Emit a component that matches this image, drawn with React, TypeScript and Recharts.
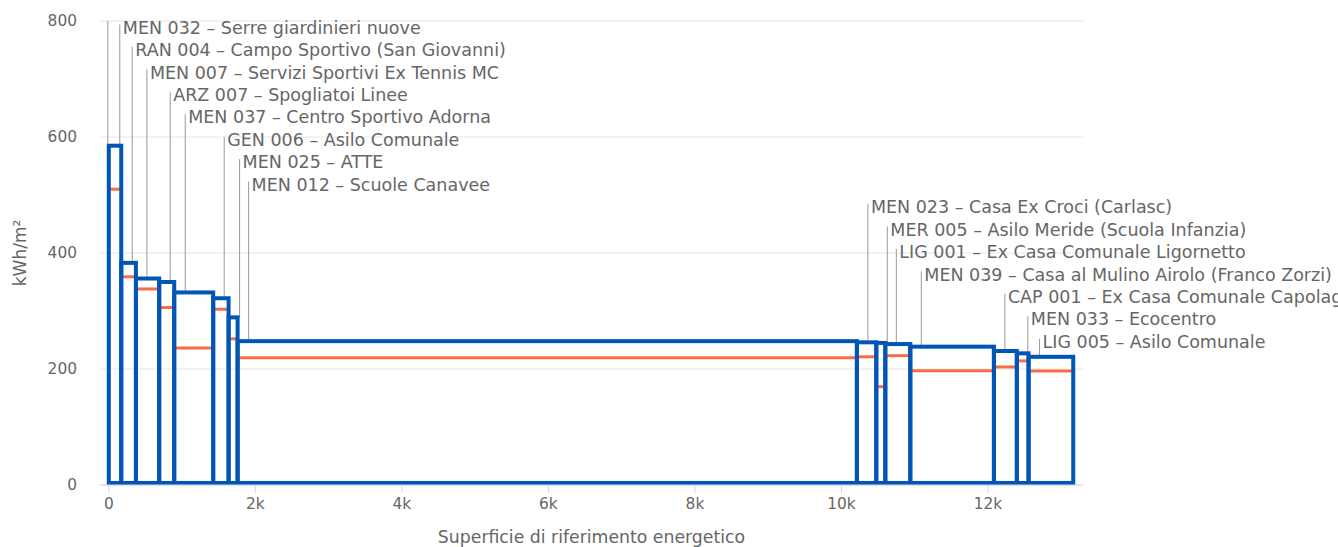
import React from "react";
import { ComposedChart, Line, XAxis, YAxis, CartesianGrid, ReferenceArea } from "recharts";

// buildings sorted by specific consumption
const buildings = [
    "MEN 032 – Serre giardinieri nuove",
    "RAN 004 – Campo Sportivo (San Giovanni)",
    "MEN 007 – Servizi Sportivi Ex Tennis MC",
    "ARZ 007 – Spogliatoi Linee",
    "MEN 037 – Centro Sportivo Adorna",
    "GEN 006 – Asilo Comunale",
    "MEN 025 – ATTE",
    "MEN 012 – Scuole Canavee",
    "MEN 023 – Casa Ex Croci (Carlasc)",
    "MER 005 – Asilo Meride (Scuola Infanzia)",
    "LIG 001 – Ex Casa Comunale Ligornetto",
    "MEN 039 – Casa al Mulino Airolo (Franco Zorzi)",
    "CAP 001 – Ex Casa Comunale Capolago",
    "MEN 033 – Ecocentro",
    "LIG 005 – Asilo Comunale",
];
// superficie di riferimento energetico (m²)
const surfaces = [170, 200, 318, 205, 532, 210, 123, 8452, 265, 123, 341, 1141, 313, 160, 610];
// kWh/m²
const consumption = [585, 383, 356, 350, 332, 322, 289, 248, 246, 245, 243, 238.5, 231, 227, 221];
const targets = [510, 359, 338, 306, 236, 303, 252, 219.5, 221, 169.5, 223, 197, 203.5, 214, 196.5];

const xTicks = [0, 2000, 4000, 6000, 8000, 10000, 12000];
const yTicks = [0, 200, 400, 600, 800];

const BLUE = "#0055b5";
const ORANGE = "#f96c44";
const GRAY = "#666666";
const FONT = "DejaVu Sans, sans-serif";
const TOP = 21;
const LABEL_Y0 = 27.5;
const LABEL_STEP = 22.45;

let acc = 0;
const rows = buildings.map((name, i) => {
    const start = acc;
    acc += surfaces[i];
    return { name, start, end: acc, value: consumption[i], target: targets[i] };
});

function renderTarget(p: any) {
    return <line x1={p.x} x2={p.x + p.width} y1={p.y} y2={p.y} stroke={ORANGE} strokeWidth={3} />;
}

function renderBuilding(p: any, i: number) {
    const { x, y, width, height } = p;
    const lx = x + 11;
    const ly = LABEL_Y0 + LABEL_STEP * i;
    return (
        <g>
            {i === 0 && <line x1={x - 1} x2={x - 1} y1={TOP} y2={y} stroke="#999" strokeWidth={1} />}
            <line x1={lx} x2={lx} y1={ly - 3} y2={y} stroke="#999" strokeWidth={1} />
            <text x={lx + 3} y={ly} dy="0.35em" fill={GRAY} fontSize={17.5} fontFamily={FONT}>
                {rows[i].name}
            </text>
            <rect x={x} y={y} width={width} height={height - 2} fill="none" stroke={BLUE} strokeWidth={4} />
        </g>
    );
}

export default function App() {
    return (
        <div style={{ position: "absolute", left: 0, top: 0 }}>
            <ComposedChart width={1338} height={547} data={rows} margin={{ top: TOP, right: 255, bottom: 0, left: 0 }}>
                <CartesianGrid vertical={false} stroke="#e6e6e6" />
                <XAxis
                    type="number"
                    dataKey="start"
                    domain={[-120, 13296]}
                    ticks={xTicks}
                    tickFormatter={(v: number) => (v === 0 ? "0" : `${v / 1000}k`)}
                    height={62}
                    stroke="#ccd6eb"
                    tickSize={8}
                    tickMargin={5}
                    tick={{ fill: GRAY, fontSize: 15.4, fontFamily: FONT }}
                    label={{ value: "Superficie di riferimento energetico", position: "insideBottom", offset: 4, fill: GRAY, fontSize: 17.3, fontFamily: FONT }}
                />
                <YAxis
                    type="number"
                    domain={[0, 800]}
                    ticks={yTicks}
                    width={100}
                    axisLine={false}
                    tickLine={false}
                    tickMargin={17}
                    tick={{ fill: GRAY, fontSize: 15.4, fontFamily: FONT }}
                    label={{
                        content: (lp: any) => {
                            const vb = lp.viewBox || { x: 0, y: TOP, width: 100, height: 464 };
                            const cx = vb.x + 20;
                            const cy = vb.y + vb.height / 2;
                            return (
                                <text x={cx} y={cy} transform={`rotate(-90 ${cx} ${cy})`} textAnchor="middle" dy="0.35em" fill={GRAY} fontSize={17} fontFamily={FONT}>
                                    kWh/m²
                                </text>
                            );
                        },
                    }}
                />
                <Line dataKey="value" stroke="none" dot={false} activeDot={false} isAnimationActive={false} />
                {rows.map((r, i) => (
                    <ReferenceArea key={`t${i}`} x1={r.start} x2={r.end} y1={0} y2={r.target} shape={renderTarget} />
                ))}
                {rows.map((r, i) => (
                    <ReferenceArea key={`b${i}`} x1={r.start} x2={r.end} y1={0} y2={r.value} shape={(p: any) => renderBuilding(p, i)} />
                ))}
            </ComposedChart>
        </div>
    );
}
